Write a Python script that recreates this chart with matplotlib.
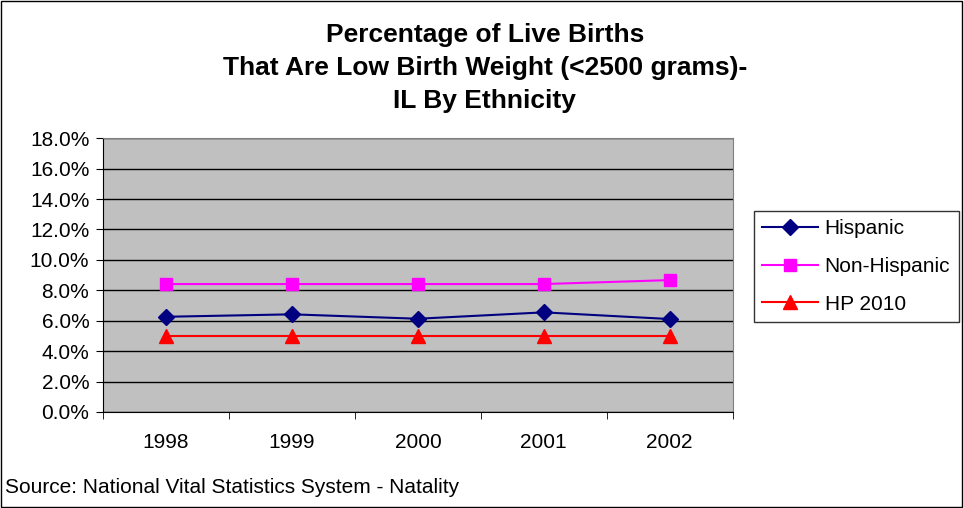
import matplotlib
matplotlib.use('Agg')
import matplotlib.pyplot as plt
from matplotlib.ticker import FuncFormatter, FixedLocator
from matplotlib.patches import Rectangle

plt.rcParams['font.family'] = ['Liberation Sans', 'DejaVu Sans']

years = ['1998', '1999', '2000', '2001', '2002']
hispanic = [6.26, 6.42, 6.13, 6.55, 6.11]
non_hispanic = [8.41, 8.41, 8.41, 8.41, 8.67]
hp2010 = [5.0, 5.0, 5.0, 5.0, 5.0]

fig = plt.figure(figsize=(9.64, 5.08), dpi=100)
ax = fig.add_axes([0.107, 0.189, 0.653, 0.539])
ax.set_facecolor('#c0c0c0')

x = range(len(years))
ax.plot(x, hispanic, color='#000080', marker='D', markersize=8, lw=1.5, label='Hispanic')
ax.plot(x, non_hispanic, color='#ff00ff', marker='s', markersize=8, lw=1.5, label='Non-Hispanic')
ax.plot(x, hp2010, color='#ff0000', marker='^', markersize=10, lw=1.5, label='HP 2010')

ax.set_ylim(0, 18)
ax.set_xlim(-0.5, len(years) - 0.5)
ax.set_yticks(range(0, 19, 2))
ax.yaxis.set_major_formatter(FuncFormatter(lambda v, p: '%.1f%%' % v))
ax.yaxis.grid(True, color='black', lw=1)
ax.set_axisbelow(True)
ax.set_xticks(list(x))
ax.set_xticklabels(years)
ax.xaxis.set_minor_locator(FixedLocator([i - 0.5 for i in range(len(years) + 1)]))
ax.tick_params(axis='x', which='major', length=0, pad=15, labelsize=15)
ax.tick_params(axis='x', which='minor', length=5, direction='out', color='black')
ax.tick_params(axis='y', length=5, direction='out', labelsize=15, pad=5)
for s in ['top', 'right']:
    ax.spines[s].set_color('#808080')
for s in ['left', 'bottom']:
    ax.spines[s].set_color('black')

fig.text(0.503, 0.866, 'Percentage of Live Births\nThat Are Low Birth Weight (<2500 grams)-\nIL By Ethnicity',
         ha='center', va='center', fontsize=19, fontweight='bold', linespacing=1.48)
fig.text(0.005, 0.041, 'Source: National Vital Statistics System - Natality', fontsize=15, ha='left', va='center')

leg = fig.legend(loc='upper left', bbox_to_anchor=(0.782, 0.585), fontsize=15, frameon=True,
                 fancybox=False, edgecolor='black', handlelength=2.7, labelspacing=0.9,
                 borderpad=0.4, handletextpad=0.3, borderaxespad=0)
leg.get_frame().set_linewidth(1)

fig.patches.append(Rectangle((0.001, 0.001), 0.997, 0.997, transform=fig.transFigure,
                             fill=False, edgecolor='black', lw=1))

fig.savefig('out.png', dpi=100)
